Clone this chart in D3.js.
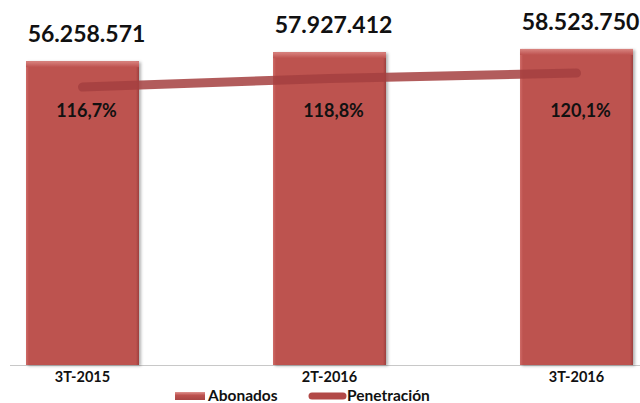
<!DOCTYPE html>
<html><head><meta charset="utf-8">
<script src="https://cdn.jsdelivr.net/npm/d3@7"></script>
<style>
html,body{margin:0;padding:0;background:#fff;}
svg{display:block;font-family:Lato,"Open Sans",sans-serif;}
</style></head>
<body>
<svg id="chart" width="640" height="403"></svg>
<script>
const categories = ["3T-2015", "2T-2016", "3T-2016"];
const abonados = [56258571, 57927412, 58523750];
const penetracion = [116.7, 118.8, 120.1];
const abonadosLabels = ["56.258.571", "57.927.412", "58.523.750"];
const penetracionLabels = ["116,7%", "118,8%", "120,1%"];
const legendLabels = ["Abonados", "Penetración"];

const svg = d3.select("#chart");
const W = 640, H = 403;
const baseY = 365, topY = 41;

const x = d3.scaleBand().domain(categories).range([-41, 700]).paddingInner(0.5425).paddingOuter(0.27125);
const y = d3.scaleLinear().domain([0, 60000000]).range([baseY, topY]);
const y2 = d3.scaleLinear().domain([49.2, 127.9]).range([baseY, topY]);

const barColor = "#bd524f";
const textColor = "#111";
const defs = svg.append("defs");
const gTop = defs.append("linearGradient").attr("id","gTop").attr("x1",0).attr("y1",0).attr("x2",0).attr("y2",1);
gTop.append("stop").attr("offset","0%").attr("stop-color","#d98480");
gTop.append("stop").attr("offset","100%").attr("stop-color",barColor);
const gLeft = defs.append("linearGradient").attr("id","gLeft").attr("x1",0).attr("y1",0).attr("x2",1).attr("y2",0);
gLeft.append("stop").attr("offset","0%").attr("stop-color","#cf6c68");
gLeft.append("stop").attr("offset","100%").attr("stop-color",barColor);
const gRight = defs.append("linearGradient").attr("id","gRight").attr("x1",0).attr("y1",0).attr("x2",1).attr("y2",0);
gRight.append("stop").attr("offset","0%").attr("stop-color",barColor);
gRight.append("stop").attr("offset","100%").attr("stop-color","#9c3f3d");
const shadow = defs.append("filter").attr("id","sh").attr("x","-10%").attr("y","-10%").attr("width","130%").attr("height","120%");
shadow.append("feDropShadow").attr("dx",2).attr("dy",1).attr("stdDeviation",1.5).attr("flood-color","#000").attr("flood-opacity",0.3);
const gLeg = defs.append("linearGradient").attr("id","gLeg").attr("x1",0).attr("y1",0).attr("x2",0).attr("y2",1);
gLeg.append("stop").attr("offset","0%").attr("stop-color","#e09490");
gLeg.append("stop").attr("offset","40%").attr("stop-color",barColor);
gLeg.append("stop").attr("offset","100%").attr("stop-color","#a84644");

// axis baseline
const xAxis = d3.axisBottom(x).tickSize(0).tickPadding(0).tickFormat("");
svg.append("g").attr("transform",`translate(0,${baseY})`).call(xAxis)
  .call(g => g.select(".domain").attr("d", `M10,0.5H${W}`).attr("stroke","#c8c8c8").attr("stroke-width",1.2));

// bars
const bars = svg.append("g").selectAll("g").data(categories).join("g");
bars.append("rect").attr("x", d => x(d)).attr("y", (d,i) => y(abonados[i]))
  .attr("width", x.bandwidth()).attr("height", (d,i) => baseY - y(abonados[i]))
  .attr("fill", barColor).attr("filter","url(#sh)");
bars.append("rect").attr("x", d => x(d)).attr("y", (d,i) => y(abonados[i]))
  .attr("width", 3).attr("height", (d,i) => baseY - y(abonados[i])).attr("fill","url(#gLeft)");
bars.append("rect").attr("x", d => x(d) + x.bandwidth() - 3).attr("y", (d,i) => y(abonados[i]))
  .attr("width", 3).attr("height", (d,i) => baseY - y(abonados[i])).attr("fill","url(#gRight)");
bars.append("rect").attr("x", d => x(d)).attr("y", (d,i) => y(abonados[i]))
  .attr("width", x.bandwidth()).attr("height", 6).attr("fill","url(#gTop)");

// line
const cx = d => x(d) + x.bandwidth()/2;
const line = d3.line().x((d,i) => cx(categories[i])).y(d => y2(d));
svg.append("path").datum(penetracion).attr("d", line)
  .attr("fill","none").attr("stroke","#a4403f").attr("stroke-opacity",0.85)
  .attr("stroke-width",9).attr("stroke-linecap","round").attr("stroke-linejoin","round");

// value labels
svg.append("g").selectAll("text").data(abonadosLabels).join("text")
  .attr("x", (d,i) => cx(categories[i]) + 4).attr("y", (d,i) => y(abonados[i]) - 19)
  .attr("text-anchor","middle").attr("font-size", 23).attr("font-weight", 700).attr("fill",textColor)
  .text(d => d);

// penetration labels
svg.append("g").selectAll("text").data(penetracionLabels).join("text")
  .attr("x", (d,i) => cx(categories[i]) + 4).attr("y", y2(penetracion[0]) + 30)
  .attr("text-anchor","middle").attr("font-size", 18).attr("font-weight", 700).attr("fill",textColor)
  .text(d => d);

// category labels
svg.append("g").selectAll("text").data(categories).join("text")
  .attr("x", d => cx(d)).attr("y", baseY + 17)
  .attr("text-anchor","middle").attr("font-size", 14.5).attr("font-weight", 700).attr("fill",textColor)
  .text(d => d);

// legend
const leg = svg.append("g");
leg.append("rect").attr("x",175).attr("y",392).attr("width",30).attr("height",8).attr("fill","url(#gLeg)");
leg.append("text").attr("x",208).attr("y",401).attr("font-size",15.5).attr("font-weight",700).attr("fill",textColor).text(legendLabels[0]);
leg.append("line").attr("x1",312).attr("x2",343).attr("y1",396).attr("y2",396)
  .attr("stroke","#b24947").attr("stroke-width",7).attr("stroke-linecap","round");
leg.append("text").attr("x",347).attr("y",401).attr("font-size",15.5).attr("font-weight",700).attr("fill",textColor).text(legendLabels[1]);
</script>
</body></html>
